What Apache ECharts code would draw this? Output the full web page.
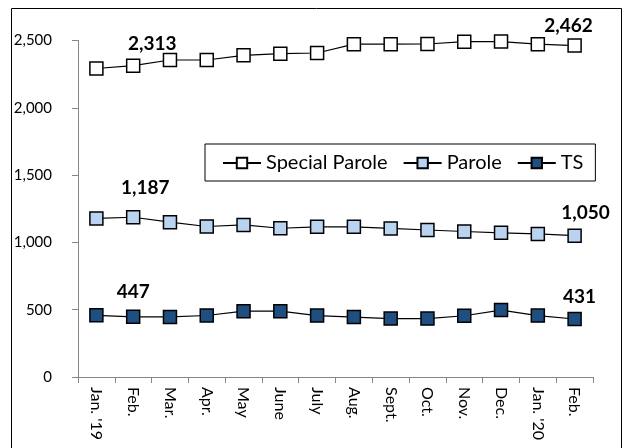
<!DOCTYPE html>
<html><head><meta charset="utf-8">
<script src="https://cdn.jsdelivr.net/npm/echarts@6/dist/echarts.min.js"></script>
<style>html,body{margin:0;padding:0;background:#fff}#c{width:629px;height:448px}</style>
</head><body><div id="c"></div>
<script>
const categories = ["Jan. '19","Feb.","Mar.","Apr.","May","June","July","Aug.","Sept.","Oct.","Nov.","Dec.","Jan. '20","Feb."];
const specialParole = [2292,2313,2355,2355,2390,2402,2407,2473,2473,2474,2491,2492,2473,2462];
const parole = [1178,1187,1150,1118,1130,1105,1116,1116,1104,1092,1081,1071,1063,1050];
const ts = [458,447,446,457,489,489,456,445,434,434,455,497,456,431];
const yTicks = [0,500,1000,1500,2000,2500];
const seriesNames = ["Special Parole","Parole","TS"];
const labelIdx = [1,13];

const FONT = 'Lato';
function mkData(vals, offsets){
  return vals.map((v,i)=>{
    const k = labelIdx.indexOf(i);
    if(k<0) return v;
    return {value:v, label:{show:true, position:'inside', offset:offsets[k],
      formatter:p=>p.value.toLocaleString('en-US'),
      fontFamily:FONT, fontWeight:'bold', fontSize:19, color:'#000'}};
  });
}
const chart = echarts.init(document.getElementById('c'));
function ser(name, vals, color, offsets){
  return {name, type:'line', data:mkData(vals, offsets), symbol:'rect', symbolSize:13,
    lineStyle:{color:'#000', width:1.2}, itemStyle:{color:color, borderColor:'#000', borderWidth:1.5},
    emphasis:{disabled:true}, animation:false, z:3};
}
chart.setOption({
  animation:false,
  grid:{left:78, right:36, top:40.5, bottom:71, containLabel:false},
  legend:{left:205, top:144, padding:[9,12,8,17], itemGap:15, itemWidth:38, itemHeight:13,
    borderColor:'#000', borderWidth:1, backgroundColor:'#fff',
    textStyle:{fontFamily:FONT, fontSize:20, color:'#000', padding:[0,0,0,0]},
    data:seriesNames},
  xAxis:{type:'category', data:categories, boundaryGap:true,
    axisLine:{lineStyle:{color:'#868686', width:1}},
    axisTick:{show:true, length:6, alignWithLabel:false, lineStyle:{color:'#868686'}},
    axisLabel:{rotate:-90, interval:0, margin:10, fontFamily:FONT, fontSize:16, color:'#000'}},
  yAxis:{type:'value', min:0, max:2500, interval:500,
    axisLine:{show:true, lineStyle:{color:'#868686', width:1}},
    axisTick:{show:true, length:6, lineStyle:{color:'#868686'}},
    splitLine:{show:false},
    axisLabel:{margin:26, fontFamily:FONT, fontSize:15, color:'#000',
      formatter:v=>yTicks.includes(v)?v.toLocaleString('en-US'):''}},
  series:[
    ser(seriesNames[0], specialParole, '#ffffff', [[19,-22],[-6,-20]]),
    ser(seriesNames[1], parole, '#b9d3f0', [[12,-29],[11,-23]]),
    ser(seriesNames[2], ts, '#1f4e80', [[0,-25],[5,-22]])
  ],
  graphic:[{type:'rect', shape:{x:11.5, y:8.5, width:610, height:460}, style:{fill:'none', stroke:'#000', lineWidth:1}, silent:true}]
});
</script></body></html>
